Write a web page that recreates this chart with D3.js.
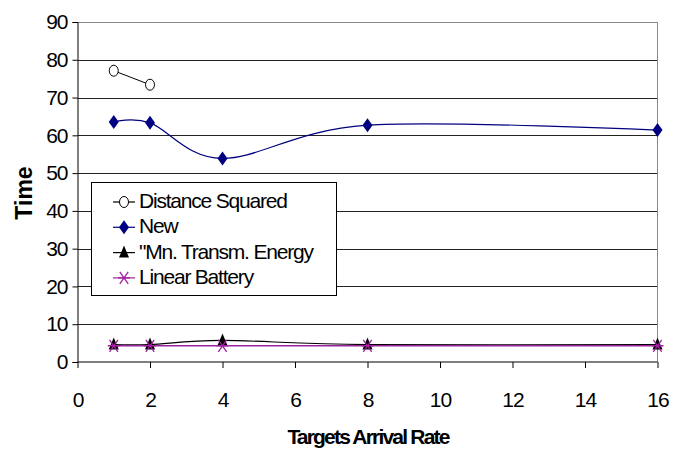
<!DOCTYPE html>
<html>
<head>
<meta charset="utf-8">
<script src="https://cdn.jsdelivr.net/npm/d3@7.9.0/dist/d3.min.js"></script>
<style>
  body { margin: 0; background: #fff; }
  text { font-family: "Liberation Sans", Arial, sans-serif; }
</style>
</head>
<body>
<svg id="chart" width="686" height="451"></svg>
<script>
// data
const xTicks = [0, 2, 4, 6, 8, 10, 12, 14, 16];
const yTicks = [0, 10, 20, 30, 40, 50, 60, 70, 80, 90];

const distX = [1, 2];
const distSquared = [77.1, 73.4];

const rates = [1, 2, 4, 8, 16];
const newAlg = [63.5, 63.3, 53.9, 62.7, 61.4];
const minTransm = [4.6, 4.6, 5.7, 4.6, 4.6];
const linearBattery = [4.3, 4.3, 4.3, 4.3, 4.3];

const seriesNames = ["Distance Squared", "New", "\"Mn. Transm. Energy", "Linear Battery"];

const svg = d3.select("#chart");
const plotLeft = 77.5, plotRight = 657.5, plotTop = 22, plotBottom = 362;

const x = d3.scaleLinear().domain([0, 16]).range([plotLeft, plotRight]);
const y = d3.scaleLinear().domain([0, 90]).range([plotBottom, plotTop]);

// grid lines
svg.append("g")
    .selectAll("line")
    .data(yTicks.filter(d => d > 0))
    .join("line")
    .attr("x1", plotLeft).attr("x2", plotRight)
    .attr("y1", d => Math.round(y(d)) + 0.5).attr("y2", d => Math.round(y(d)) + 0.5)
    .attr("stroke", "#222").attr("stroke-width", 1);

// plot border right/top
svg.append("line")
    .attr("x1", plotRight).attr("x2", plotRight).attr("y1", plotTop).attr("y2", plotBottom)
    .attr("stroke", "#888");
svg.append("line")
    .attr("x1", plotLeft).attr("x2", plotRight).attr("y1", plotTop + 0.5).attr("y2", plotTop + 0.5)
    .attr("stroke", "#888");

// axes
const yAxis = svg.append("g")
    .attr("transform", `translate(${plotLeft},0)`)
    .call(d3.axisLeft(y).tickValues(yTicks).tickSize(5).tickPadding(5));
const xAxis = svg.append("g")
    .attr("transform", `translate(0,${plotBottom})`)
    .call(d3.axisBottom(x).tickValues(xTicks).tickSize(5).tickPadding(25));

[yAxis, xAxis].forEach(ax => {
    ax.select(".domain").attr("stroke", "#000");
    ax.selectAll(".tick line").attr("stroke", "#000");
    ax.selectAll("text")
        .attr("font-size", 21)
        .attr("letter-spacing", -1)
        .attr("fill", "#000")
        .style("font-family", "'Liberation Sans', Arial, sans-serif");
});
xAxis.select(".domain").attr("d", `M${plotLeft},0H${plotRight}`);
xAxis.selectAll(".tick line").attr("y2", 6);

// axis titles
svg.append("text")
    .attr("transform", "translate(32,193) rotate(-90)")
    .attr("text-anchor", "middle")
    .attr("font-size", 23).attr("font-weight", "bold")
    .text("Time");
svg.append("text")
    .attr("x", 368).attr("y", 444)
    .attr("text-anchor", "middle")
    .attr("font-size", 21).attr("font-weight", "bold")
    .attr("letter-spacing", -1.8)
    .text("Targets Arrival Rate");

const smooth = d3.line()
    .x(d => x(d[0])).y(d => y(d[1]))
    .curve(d3.curveCardinal.tension(0));

// marker drawers
function diamond(g, cx, cy, color) {
    g.append("path")
        .attr("d", `M${cx},${cy - 7}L${cx + 5},${cy}L${cx},${cy + 7}L${cx - 5},${cy}Z`)
        .attr("fill", color);
}
function circle(g, cx, cy) {
    g.append("ellipse")
        .attr("cx", cx).attr("cy", cy).attr("rx", 4.5).attr("ry", 5.5)
        .attr("fill", "#fff").attr("stroke", "#000").attr("stroke-width", 1);
}
function triangle(g, cx, cy) {
    g.append("path")
        .attr("d", `M${cx},${cy - 7}L${cx + 5},${cy + 5}L${cx - 5},${cy + 5}Z`)
        .attr("fill", "#000");
}
function star(g, cx, cy) {
    const r = 6;
    g.append("path")
        .attr("d", `M${cx - r * 0.7},${cy - r}L${cx + r * 0.7},${cy + r}M${cx + r * 0.7},${cy - r}L${cx - r * 0.7},${cy + r}M${cx - r},${cy}L${cx + r},${cy}`)
        .attr("stroke", "#a020a0").attr("stroke-width", 1.3).attr("fill", "none");
}

const plot = svg.append("g");

// Distance Squared
plot.append("path")
    .attr("d", smooth(distX.map((d, i) => [d, distSquared[i]])))
    .attr("fill", "none").attr("stroke", "#000").attr("stroke-width", 1);
distX.forEach((d, i) => circle(plot, x(d), y(distSquared[i])));

// New
plot.append("path")
    .attr("d", smooth(rates.map((d, i) => [d, newAlg[i]])))
    .attr("fill", "none").attr("stroke", "#000080").attr("stroke-width", 1.2);
rates.forEach((d, i) => diamond(plot, x(d), y(newAlg[i]), "#000080"));

// Min Transm Energy
plot.append("path")
    .attr("d", smooth(rates.map((d, i) => [d, minTransm[i]])))
    .attr("fill", "none").attr("stroke", "#000").attr("stroke-width", 1.2);

// Linear Battery
plot.append("path")
    .attr("d", smooth(rates.map((d, i) => [d, linearBattery[i]])))
    .attr("fill", "none").attr("stroke", "#a020a0").attr("stroke-width", 1.3);

rates.forEach((d, i) => triangle(plot, x(d), y(minTransm[i])));
rates.forEach((d, i) => star(plot, x(d), y(linearBattery[i])));

// legend
const legend = svg.append("g");
legend.append("rect")
    .attr("x", 91.5).attr("y", 182.5).attr("width", 245).attr("height", 113)
    .attr("fill", "#fff").attr("stroke", "#000");

const legendColors = ["#000", "#000080", "#000", "#a020a0"];
const markers = [
    (g, cx, cy) => circle(g, cx, cy),
    (g, cx, cy) => diamond(g, cx, cy, "#000080"),
    (g, cx, cy) => triangle(g, cx, cy),
    (g, cx, cy) => star(g, cx, cy)
];
seriesNames.forEach((name, i) => {
    const cy = 202 + i * 25.3;
    legend.append("line")
        .attr("x1", 113).attr("x2", 135).attr("y1", cy).attr("y2", cy)
        .attr("stroke", legendColors[i]).attr("stroke-width", 1.2);
    markers[i](legend, 124, cy);
    legend.append("text")
        .attr("x", 139).attr("y", cy + 6)
        .attr("font-size", 21).attr("letter-spacing", -1.2)
        .text(name);
});
</script>
</body>
</html>
